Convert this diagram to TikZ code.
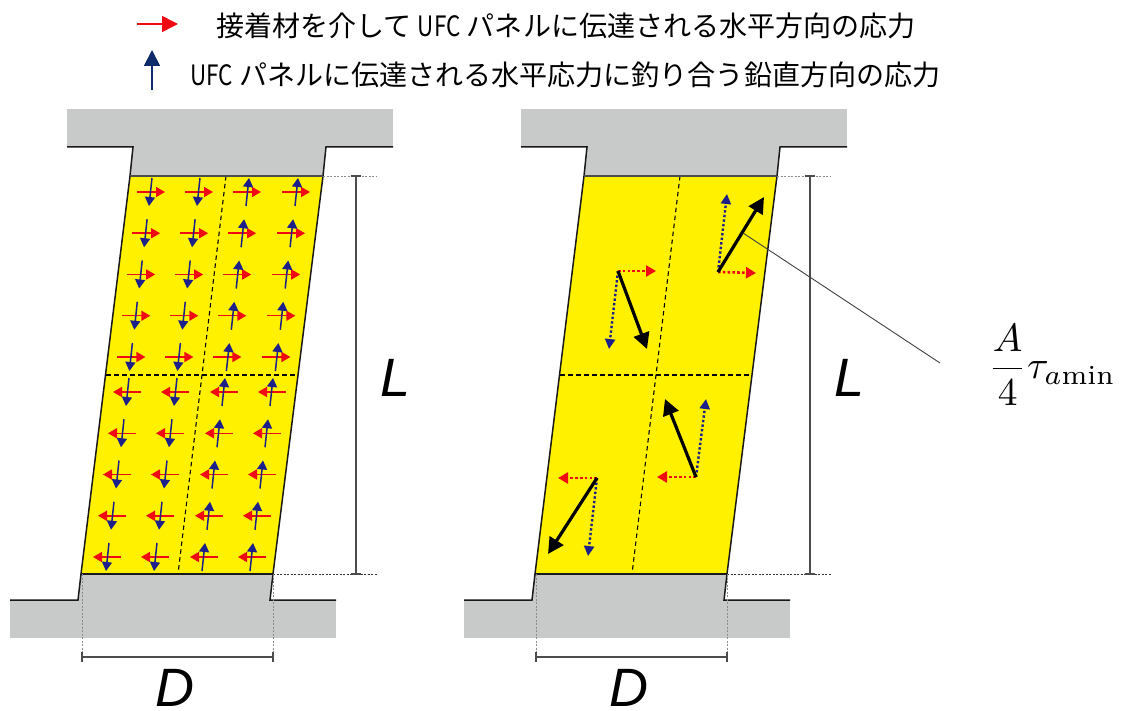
\documentclass[tikz,border=0pt]{standalone}
\usepackage{fontspec}
\usepackage{amsmath}
\usetikzlibrary{arrows.meta}
\newfontfamily\dimfont{Liberation Sans}
\newfontfamily\cjk{Noto Sans CJK JP}
\definecolor{slabgray}{HTML}{C8C9C9}
\definecolor{panelyellow}{HTML}{FFF100}
\definecolor{redarrow}{HTML}{F00A14}
\definecolor{bluearrow}{HTML}{1D2088}
\definecolor{navyarrow}{HTML}{0F2A6B}
\newcommand{\ufc}{\scalebox{0.8}[1]{UFC}}
\newcommand{\panel}[1]{%
 \begin{scope}[xshift=#1pt]
  \fill[slabgray] (67,109) rectangle (393,147);
  \fill[slabgray] (133,147) -- (326,147) -- (323,176) -- (130,176) -- cycle;
  \fill[slabgray] (10,600) rectangle (336,638);
  \fill[slabgray] (81,574) -- (273,574) -- (270,600) -- (78,600) -- cycle;
  \fill[panelyellow] (130,176) -- (323,176) -- (273,574) -- (81,574) -- cycle;
  \draw[divline] (226,176) -- (178,574);
  \draw[divline] (106,375) -- (298,375);
  \draw[outline] (67,147) -- (133,147) -- (130,176) -- (81,574) -- (78,600) -- (10,600);
  \draw[outline] (393,147) -- (326,147) -- (323,176) -- (273,574) -- (270,600) -- (336,600);
  \draw[outline,line width=1.1pt,black!70] (130,176) -- (323,176);
  \draw[outline,line width=1.2pt] (81,574) -- (273,574);
  \draw[dotgray] (323,176) -- (377,176);
  \draw[dotblack] (273,574) -- (377,574);
  \draw[dotgray] (82,574) -- (82,652);
  \draw[dotgray] (273,574) -- (273,652);
  \draw[dimline] (356,176) -- (356,574);
  \draw[dimline] (351,176) -- (361,176);
  \draw[dimline] (351,574) -- (361,574);
  \draw[dimline] (82,657) -- (273,657);
  \draw[dimline] (82,652) -- (82,662);
  \draw[dimline] (273,652) -- (273,662);
  \node[dimlabel] at (396,378) {L};
  \node[dimlabel] at (175,688) {D};
 \end{scope}}
\tikzset{
 outline/.style={line width=1.5pt,black!90,line join=miter},
 divline/.style={line width=1.1pt,black,dash pattern=on 4.5pt off 3.5pt},
 dotgray/.style={line width=0.8pt,black!45,dash pattern=on 2pt off 1.5pt},
 dotblack/.style={line width=0.9pt,black!80,dash pattern=on 2pt off 1.5pt},
 dimline/.style={line width=1.2pt,black!70},
 dimlabel/.style={font=\dimfont\fontsize{54}{54}\selectfont\itshape,inner sep=0pt},
 redsmall/.style={line width=1.5pt,redarrow,-{Triangle[length=9pt,width=10pt]}},
 bluesmall/.style={line width=1.5pt,bluearrow,-{Triangle[length=9pt,width=10pt]}},
 reddot/.style={line width=2.6pt,redarrow,dash pattern=on 2.6pt off 2.2pt,-{Triangle[length=10pt,width=11pt]}},
 bluedot/.style={line width=2.4pt,bluearrow,dash pattern=on 2.4pt off 2.2pt,-{Triangle[length=10pt,width=10pt]}},
 blackarrow/.style={line width=3.2pt,black,-{Triangle[length=16pt,width=16pt]}},
 legendtext/.style={font=\cjk\fontsize{28.05}{30}\selectfont,inner sep=0pt,anchor=west},
}
\begin{document}
\begin{tikzpicture}[x=1pt,y=-1pt]
\useasboundingbox (0,0) rectangle (1127,711);
% legend
\draw[line width=1.6pt,redarrow,-{Triangle[length=16pt,width=16pt]}] (137,24) -- (178,24);
\draw[line width=1.8pt,navyarrow,-{Triangle[length=16pt,width=16pt]}] (152,90) -- (152,50);
\node[legendtext] (t1) at (216,26) {接着材を介して \ufc{} パネルに伝達される水平方向の応力};
\node[legendtext] (t2) at (190,75) {\ufc{} パネルに伝達される水平応力に釣り合う鉛直方向の応力};
% panels
\panel{0}
\panel{454}
% left panel arrows: upper half (to the right)
\foreach \r in {0,...,4}{
 \foreach \xc/\kind in {137/0,185/0,233/1,282/1}{
  \pgfmathsetmacro{\xx}{\xc-4.9*\r}
  \pgfmathsetmacro{\yy}{192+41.25*\r}
  \draw[redsmall] (\xx,\yy) -- (\xx+28,\yy);
  \ifnum\kind=0
   \draw[bluesmall] (\xx+15,\yy-14) -- (\xx+12,\yy+14);
  \else
   \draw[bluesmall] (\xx+13,\yy+14) -- (\xx+16,\yy-14);
  \fi
 }
}
% left panel arrows: lower half (to the left)
\foreach \r in {0,...,4}{
 \foreach \xc/\kind in {113/0,161/0,210/1,258/1}{
  \pgfmathsetmacro{\xx}{\xc-5*\r}
  \pgfmathsetmacro{\yy}{392+41.25*\r}
  \draw[redsmall] (\xx+28,\yy) -- (\xx,\yy);
  \ifnum\kind=0
   \draw[bluesmall] (\xx+16,\yy-14) -- (\xx+13,\yy+14);
  \else
   \draw[bluesmall] (\xx+12,\yy+14) -- (\xx+15,\yy-14);
  \fi
 }
}
% right panel arrows
\coordinate (ur) at (718,272);
\coordinate (ul) at (618,271);
\coordinate (lr) at (696,477);
\coordinate (ll) at (597,478);
\coordinate (urb) at (764,197);
\coordinate (ulb) at (647,349);
\coordinate (lrb) at (665,399);
\coordinate (llb) at (548,554);
\draw[reddot] (ur) -- (756,273);
\draw[reddot] (ul) -- (656,271);
\draw[reddot] (lr) -- (657,477);
\draw[reddot] (ll) -- (558,478);
\draw[bluedot] (ur) -- (727,194);
\draw[bluedot] (ul) -- (609,349);
\draw[bluedot] (lr) -- (706,399);
\draw[bluedot] (ll) -- (588,556);
\draw[blackarrow] (ur) -- (urb);
\draw[blackarrow] (ul) -- (ulb);
\draw[blackarrow] (lr) -- (lrb);
\draw[blackarrow] (ll) -- (llb);
% leader and label
\coordinate (lead) at (743,233);
\node[anchor=west,inner sep=0pt] (tau) at (988,365) {\scalebox{3.94}{$\dfrac{A}{4}\tau_{a\mathrm{min}}$}};
\coordinate (leadend) at (940,363);
\draw[line width=0.9pt,black!75] (lead) -- (leadend);
\end{tikzpicture}
\end{document}
